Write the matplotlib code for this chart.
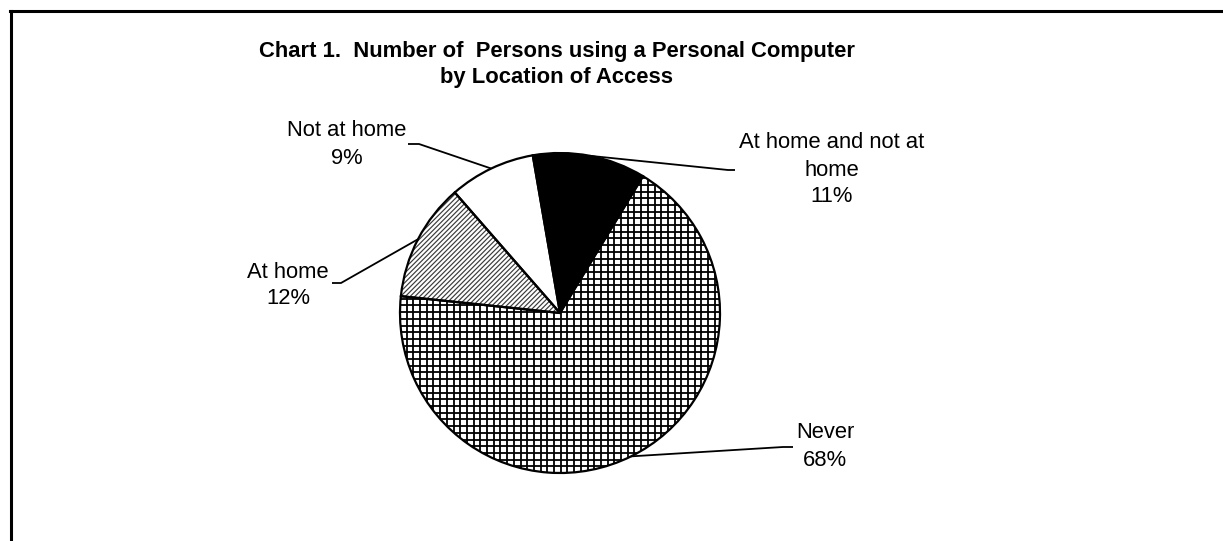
import numpy as np
import matplotlib
matplotlib.use("Agg")
import matplotlib.pyplot as plt
from matplotlib.collections import LineCollection
from matplotlib.patches import Wedge
from matplotlib.lines import Line2D

plt.rcParams['font.family'] = ['Liberation Sans', 'DejaVu Sans']

# Share of persons by location of PC access (percent)
categories = ["At home and not at\nhome", "Never", "At home", "Not at home"]
shares = [11.4, 68.0, 11.9, 8.7]

W, H = 1223, 541
fig = plt.figure(figsize=(W / 100, H / 100), dpi=100)
ax = fig.add_axes([0, 0, 1, 1])

cx, cy, R = 560, H - 313, 160

wedges, _ = ax.pie(shares, startangle=99.8, counterclock=False, radius=R,
                   center=(cx, cy), colors=["black", "white", "white", "white"],
                   wedgeprops=dict(linewidth=0))
ax.set_xlim(0, W)
ax.set_ylim(0, H)
ax.set_aspect('equal')
ax.axis('off')

# Square grid fill for "Never"
step = 6.7
segs = []
for x in np.arange(cx - R, cx + R + step, step):
    segs.append([(x, cy - R), (x, cy + R)])
for y in np.arange(cy - R, cy + R + step, step):
    segs.append([(cx - R, y), (cx + R, y)])
grid = LineCollection(segs, colors='black', linewidths=1.3, zorder=2)
ax.add_collection(grid)
grid.set_clip_path(wedges[1])

# Diagonal stripe fill for "At home"
dstep = 4.8
dsegs = []
for off in np.arange(-2 * R, 2 * R, dstep):
    dsegs.append([(cx - R + off, cy - R), (cx + R + off, cy + R)])
diag = LineCollection(dsegs, colors='#3a3a3a', linewidths=0.85, zorder=2)
ax.add_collection(diag)
diag.set_clip_path(wedges[2])

# Wedge outlines on top of the fills
for w in wedges:
    ax.add_patch(Wedge(w.center, w.r, w.theta1, w.theta2, fill=False,
                       edgecolor='black', linewidth=1.6, zorder=3))

# Leader lines and labels
leader_pts = [
    [(728, 170), (735, 170)],
    [(783, 447), (793, 447)],
    [(341, 283), (332, 283)],
    [(419, 144), (408, 144)],
]
label_lines_y = [
    [142, 170, 197],
    [433, 461],
    [272, 298],
    [131, 158],
]
label_x = [832, 825, 288, 347]

for w, name, share, pts, ys, lx in zip(wedges, categories, shares,
                                        leader_pts, label_lines_y, label_x):
    mid = np.deg2rad((w.theta1 + w.theta2) / 2)
    ax_pt = (cx + R * np.cos(mid), cy + R * np.sin(mid))
    xs = [ax_pt[0]] + [p[0] for p in pts]
    yv = [ax_pt[1]] + [H - p[1] for p in pts]
    ax.plot(xs, yv, color='black', linewidth=1.3, zorder=4,
            solid_capstyle='butt')
    lines = name.split("\n") + [f"{round(share)}%"]
    for txt, y in zip(lines, ys):
        ax.text(lx, H - y, txt, ha='center', va='center', fontsize=15.8,
                color='black')

# Title
fig.text(557 / W, 1 - 52 / H,
         "Chart 1.  Number of  Persons using a Personal Computer",
         ha='center', va='center', fontsize=15.8, fontweight='bold')
fig.text(557 / W, 1 - 77 / H, "by Location of Access",
         ha='center', va='center', fontsize=15.8, fontweight='bold')

# Chart frame (top and left edges)
fig.add_artist(Line2D([10 / W, 1], [1 - 11 / H, 1 - 11 / H],
                      color='black', linewidth=2.2))
fig.add_artist(Line2D([11 / W, 11 / W], [0, 1 - 11 / H],
                      color='black', linewidth=2.2))

fig.savefig("out.png", dpi=100)
